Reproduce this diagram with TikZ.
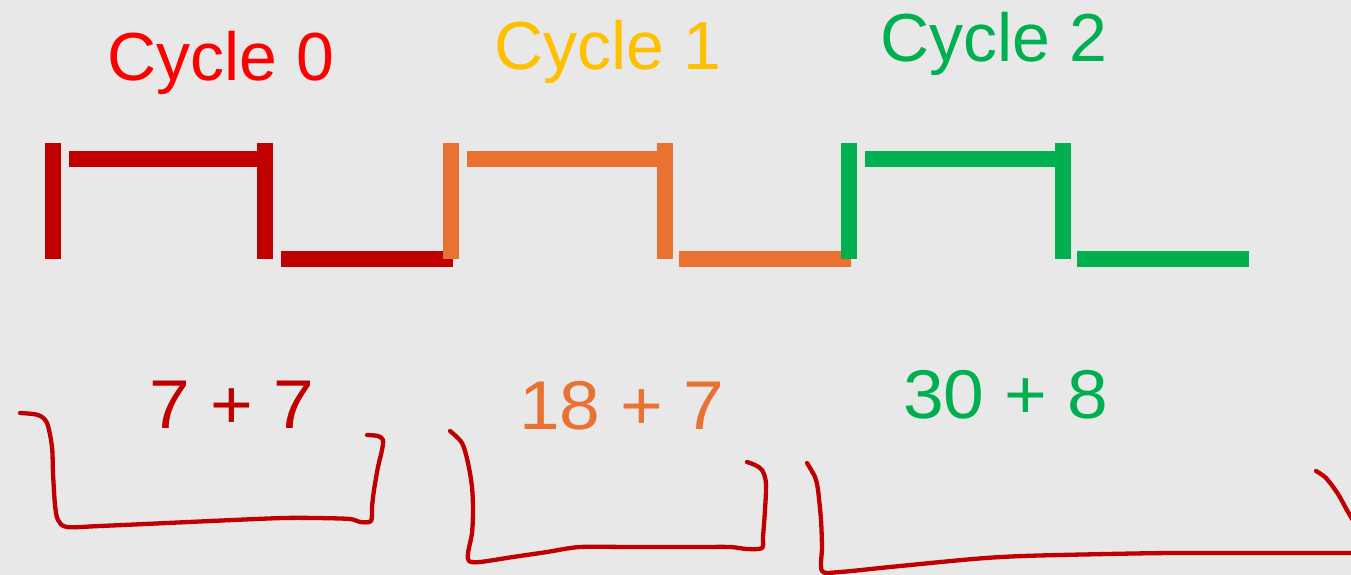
\documentclass[tikz,border=0pt]{standalone}
\usepackage{fontspec}
\setmainfont{Liberation Sans}
\newfontfamily\sumfont[FakeStretch=1.06]{Liberation Sans}
\definecolor{bg}{HTML}{E8E8E8}
\definecolor{darkred}{HTML}{C00000}
\definecolor{orng}{HTML}{E97132}
\definecolor{grn}{HTML}{00B050}
\definecolor{brightred}{HTML}{FF0000}
\definecolor{gold}{HTML}{FFC000}
\tikzset{
  title/.style={anchor=base, inner sep=0pt, font=\fontsize{68}{80}\selectfont},
  sum/.style={anchor=base, inner sep=0pt, font=\sumfont\fontsize{69}{80}\selectfont},
  ink/.style={draw=darkred, line width=4.3pt, line cap=round, line join=round}
}
\begin{document}
\begin{tikzpicture}[x=1pt, y=-1pt]
  % canvas
  \fill[bg] (0,0) rectangle (1351,575);
  \useasboundingbox (0,0) rectangle (1351,575);

  % cycle titles
  \node[title, text=brightred] (t0) at (221,81) {Cycle 0};
  \node[title, text=gold]      (t1) at (608,70) {Cycle 1};
  \node[title, text=grn]       (t2) at (994,62) {Cycle 2};

  % clock waveform, cycle 0
  \fill[darkred] (45,143) rectangle (61,259);
  \fill[darkred] (69,151) rectangle (257,167);
  \fill[darkred] (257,143) rectangle (273,259);
  \fill[darkred] (281,251) rectangle (453,267);
  % cycle 1
  \fill[orng] (443,143) rectangle (459,259);
  \fill[orng] (467,151) rectangle (657,167);
  \fill[orng] (657,143) rectangle (673,259);
  \fill[orng] (679,251) rectangle (851,267);
  % cycle 2
  \fill[grn] (841,143) rectangle (857,259);
  \fill[grn] (865,151) rectangle (1055,167);
  \fill[grn] (1055,143) rectangle (1071,259);
  \fill[grn] (1077,251) rectangle (1249,267);

  % sums
  \node[sum, text=darkred] (s0) at (232,428) {7 + 7};
  \node[sum, text=orng]    (s1) at (622,429) {18 + 7};
  \node[sum, text=grn]     (s2) at (1006,418) {30 + 8};

  % hand-drawn brackets
  \draw[ink] plot[smooth, tension=0.5] coordinates {
    (20,413) (38,415) (47,423) (52,447) (53,473) (55,505) (58,520) (67,527)
    (100,526) (167,523) (233,520) (283,518) (317,518) (350,519) (360,522) (371,521)
    (372,507) (374,490) (378,467) (382,450) (383,440) (378,436) (367,435)};
  \draw[ink] plot[smooth, tension=0.5] coordinates {
    (450,431) (462,443) (468,463) (472,487) (473,510) (472,533) (468,553) (469,561)
    (480,562) (513,557) (547,552) (580,547) (630,547) (697,547) (730,547) (747,549) (762,548)
    (763,537) (765,510) (766,483) (762,470) (755,465) (747,462)};
  \draw[ink] plot[smooth, tension=0.5] coordinates {
    (807,463) (815,477) (818,490) (821,520) (822,547) (822,571)
    (840,572) (890,567) (973,559) (1023,556) (1107,554) (1173,553) (1260,553) (1360,553)};
  \draw[ink] plot[smooth, tension=0.5] coordinates {
    (1316,471) (1326,478) (1338,494) (1348,512) (1360,532)};
\end{tikzpicture}
\end{document}
